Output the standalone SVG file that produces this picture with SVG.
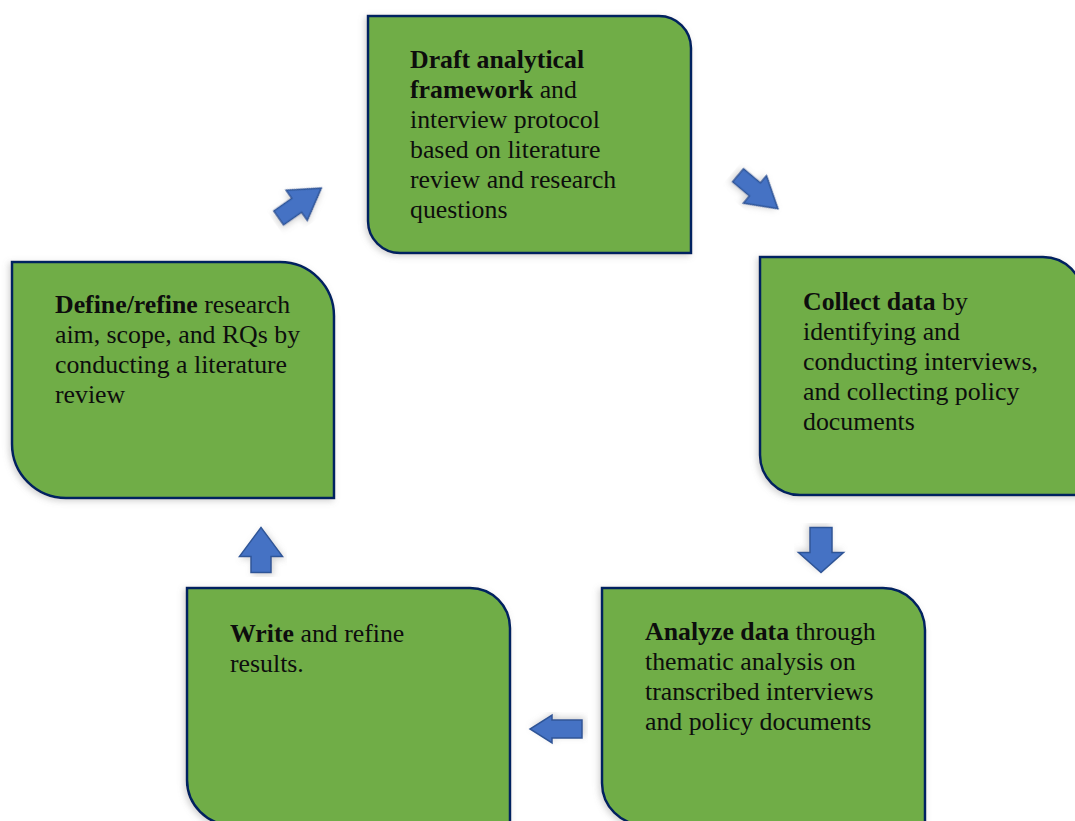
<svg xmlns="http://www.w3.org/2000/svg" width="1075" height="821" viewBox="0 0 1075 821">
  <style>
    .box { fill: #70AD47; stroke: #002060; stroke-width: 2.5; filter: url(#shade); }
    .arrow { fill: #4472C4; stroke: #2F5597; stroke-width: 1.5; filter: url(#shade); }
    .txt { font-family: "Liberation Serif", "Times New Roman", serif; font-size: 25.8px; fill: #0d0d0d; }
    .b { font-weight: bold; }
  </style>
  <defs>
    <filter id="shade" x="-10%" y="-10%" width="120%" height="120%">
      <feDropShadow dx="-2" dy="2" stdDeviation="3" flood-color="#7f7f7f" flood-opacity="0.35"/>
    </filter>
  </defs>
  <rect width="1075" height="821" fill="#ffffff"/>

  <!-- block arrows: each is a right-pointing arrow centred on the origin, then rotated -->
  <g id="connectors">
    <path class="arrow" transform="translate(300,203) rotate(-35)" d="M-26,-8.5 H-4 V-18.5 L26,0 L-4,18.5 V8.5 H-26 Z"/>
    <path class="arrow" transform="translate(758,192) rotate(40)" d="M-26,-8.5 H-4 V-18 L26,0 L-4,18 V8.5 H-26 Z"/>
    <path class="arrow" transform="translate(821,550) rotate(90)" d="M-22.5,-11 H2.5 V-22.5 L22.5,0 L2.5,22.5 V11 H-22.5 Z"/>
    <path class="arrow" transform="translate(556,729) rotate(180)" d="M-26,-9 H4 V-14 L26,0 L4,14 V9 H-26 Z"/>
    <path class="arrow" transform="translate(261,550) rotate(-90)" d="M-22.5,-10 H-6.5 V-21.5 L22.5,0 L-6.5,21.5 V10 H-22.5 Z"/>
  </g>

  <g id="node-draft">
    <path class="box" d="M368,16 H659 A32,32 0 0 1 691,48 V253 H400 A32,32 0 0 1 368,221 Z"/>
    <text class="txt" x="410" y="68"><tspan class="b">Draft analytical</tspan></text>
    <text class="txt" x="410" y="98"><tspan class="b">framework</tspan> and</text>
    <text class="txt" x="410" y="128">interview protocol</text>
    <text class="txt" x="410" y="158">based on literature</text>
    <text class="txt" x="410" y="188">review and research</text>
    <text class="txt" x="410" y="218">questions</text>
  </g>

  <g id="node-collect">
    <path class="box" d="M760,257 H1043 A40,40 0 0 1 1083,297 V495 H800 A40,40 0 0 1 760,455 Z"/>
    <text class="txt" x="803" y="310"><tspan class="b">Collect data</tspan> by</text>
    <text class="txt" x="803" y="340">identifying and</text>
    <text class="txt" x="803" y="370">conducting interviews,</text>
    <text class="txt" x="803" y="400">and collecting policy</text>
    <text class="txt" x="803" y="430">documents</text>
  </g>

  <g id="node-analyze">
    <path class="box" d="M602,588 H883 A42,42 0 0 1 925,630 V825 H644 A42,42 0 0 1 602,783 Z"/>
    <text class="txt" x="645" y="640"><tspan class="b">Analyze data</tspan> through</text>
    <text class="txt" x="645" y="670">thematic analysis on</text>
    <text class="txt" x="645" y="700">transcribed interviews</text>
    <text class="txt" x="645" y="730">and policy documents</text>
  </g>

  <g id="node-write">
    <path class="box" d="M187,588 H470 A40,40 0 0 1 510,628 V825 H232 A45,45 0 0 1 187,780 Z"/>
    <text class="txt" x="230" y="642"><tspan class="b">Write</tspan> and refine</text>
    <text class="txt" x="230" y="672">results.</text>
  </g>

  <g id="node-define">
    <path class="box" d="M12,262 H280 A54,54 0 0 1 334,316 V498 H66 A54,54 0 0 1 12,444 Z"/>
    <text class="txt" x="55" y="313"><tspan class="b">Define/refine</tspan> research</text>
    <text class="txt" x="55" y="343">aim, scope, and RQs by</text>
    <text class="txt" x="55" y="373">conducting a literature</text>
    <text class="txt" x="55" y="403">review</text>
  </g>
</svg>
